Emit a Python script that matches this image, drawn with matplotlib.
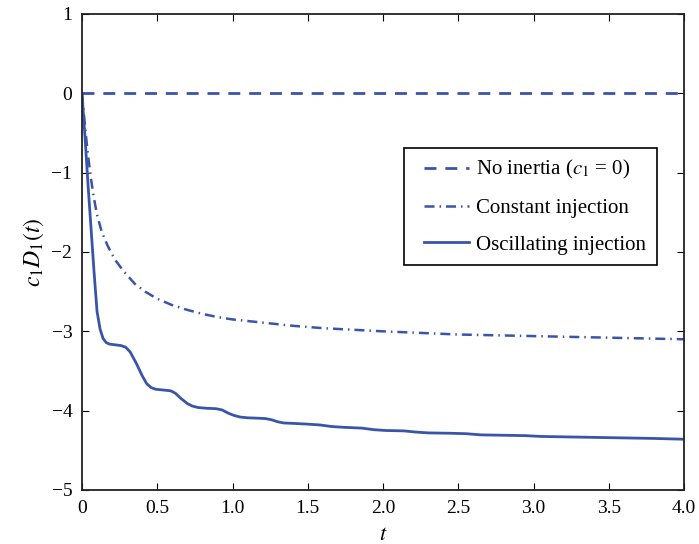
import numpy as np
import matplotlib
matplotlib.use("Agg")
import matplotlib.pyplot as plt
from matplotlib.legend_handler import HandlerLine2D

# ==============================
# DATA
# ==============================

t_zero = [0.0, 4.0]
d_zero = [0.0, 0.0]

t_const = [0.0, 0.02, 0.04, 0.06, 0.08, 0.10, 0.13, 0.17, 0.22, 0.28, 0.35,
           0.42, 0.50, 0.60, 0.70, 0.80, 0.90, 1.00, 1.20, 1.40, 1.60, 1.80,
           2.00, 2.25, 2.50, 2.75, 3.00, 3.25, 3.50, 3.75, 4.00]
d_const = [0.0, -0.42, -0.78, -1.08, -1.33, -1.53, -1.74, -1.92, -2.10, -2.25, -2.40,
           -2.50, -2.59, -2.67, -2.73, -2.78, -2.82, -2.85, -2.89, -2.93, -2.96, -2.98,
           -3.00, -3.02, -3.04, -3.05, -3.06, -3.07, -3.08, -3.09, -3.10]

t_osc = [0.00, 0.02, 0.04, 0.06, 0.08, 0.10, 0.12, 0.14, 0.16, 0.18, 0.22,
         0.26, 0.29, 0.32, 0.36, 0.40, 0.43, 0.46, 0.49, 0.54, 0.59, 0.62,
         0.66, 0.70, 0.73, 0.77, 0.83, 0.89, 0.93, 0.97, 1.01, 1.05, 1.10,
         1.17, 1.22, 1.26, 1.30, 1.34, 1.40, 1.50, 1.58, 1.66, 1.74, 1.86,
         1.94, 2.02, 2.14, 2.22, 2.30, 2.45, 2.55, 2.65, 2.80, 2.95, 3.05,
         3.20, 3.35, 3.50, 3.65, 3.80, 3.90, 4.00]
d_osc = [0.00, -0.55, -1.15, -1.70, -2.25, -2.75, -2.97, -3.09, -3.14, -3.16, -3.17,
         -3.18, -3.20, -3.26, -3.40, -3.56, -3.66, -3.71, -3.73, -3.74, -3.75, -3.78,
         -3.85, -3.91, -3.94, -3.96, -3.97, -3.975, -3.99, -4.03, -4.06, -4.08, -4.09,
         -4.095, -4.10, -4.115, -4.14, -4.155, -4.16, -4.17, -4.18, -4.20, -4.21, -4.22,
         -4.24, -4.25, -4.255, -4.27, -4.28, -4.285, -4.29, -4.305, -4.31, -4.315, -4.325,
         -4.33, -4.335, -4.34, -4.345, -4.35, -4.355, -4.36]

labels = [r"No inertia ($c_1$ = 0)", "Constant injection", "Oscillating injection"]
x_ticks = [0, 0.5, 1.0, 1.5, 2.0, 2.5, 3.0, 3.5, 4.0]
x_ticklabels = ["0", "0.5", "1.0", "1.5", "2.0", "2.5", "3.0", "3.5", "4.0"]
y_ticks = [1, 0, -1, -2, -3, -4, -5]

# ==============================
# PLOT
# ==============================

plt.rcParams["font.family"] = ["Liberation Serif", "DejaVu Serif"]
plt.rcParams["mathtext.fontset"] = "stix"
plt.rcParams["font.size"] = 14

blue = "#3a55a8"

fig = plt.figure(figsize=(6.99, 5.44), dpi=100)
ax = fig.add_axes([82 / 699, 1 - 490 / 544, 602 / 699, 476 / 544])

ax.plot(t_zero, d_zero, color=blue, lw=2.0, dashes=(4.3, 3.2), label=labels[0])
ax.plot(t_const, d_const, color=blue, lw=1.8, dashes=(4.0, 2.0, 0.6, 2.0), label=labels[1])
ax.plot(t_osc, d_osc, color=blue, lw=2.0, label=labels[2])

ax.set_xlim(0, 4)
ax.set_ylim(-5, 1)
ax.set_xticks(x_ticks)
ax.set_xticklabels(x_ticklabels)
ax.set_yticks(y_ticks)
ax.tick_params(direction="in", top=True, right=True, length=5, width=0.8,
               labelsize=14, pad=7)
for s in ax.spines.values():
    s.set_linewidth(1.3)
    s.set_color("#222222")

ax.set_xlabel(r"$t$", fontsize=16, labelpad=7)
ax.set_ylabel(r"$c_1D_1(t)$", fontsize=17, labelpad=4)

# handle line shifted right inside its box, like the reference legend
hmap = {ln: HandlerLine2D(xpad=0.45) for ln in ax.get_lines()}
leg = ax.legend(loc="upper right", bbox_to_anchor=(0.955, 0.7185), borderaxespad=0,
                fancybox=False, edgecolor="black", framealpha=1, fontsize=15,
                handlelength=2.64, handletextpad=0.34, labelspacing=0.82,
                borderpad=0.5, handler_map=hmap)
leg.get_frame().set_linewidth(1.2)

fig.savefig("out.png", dpi=100)
